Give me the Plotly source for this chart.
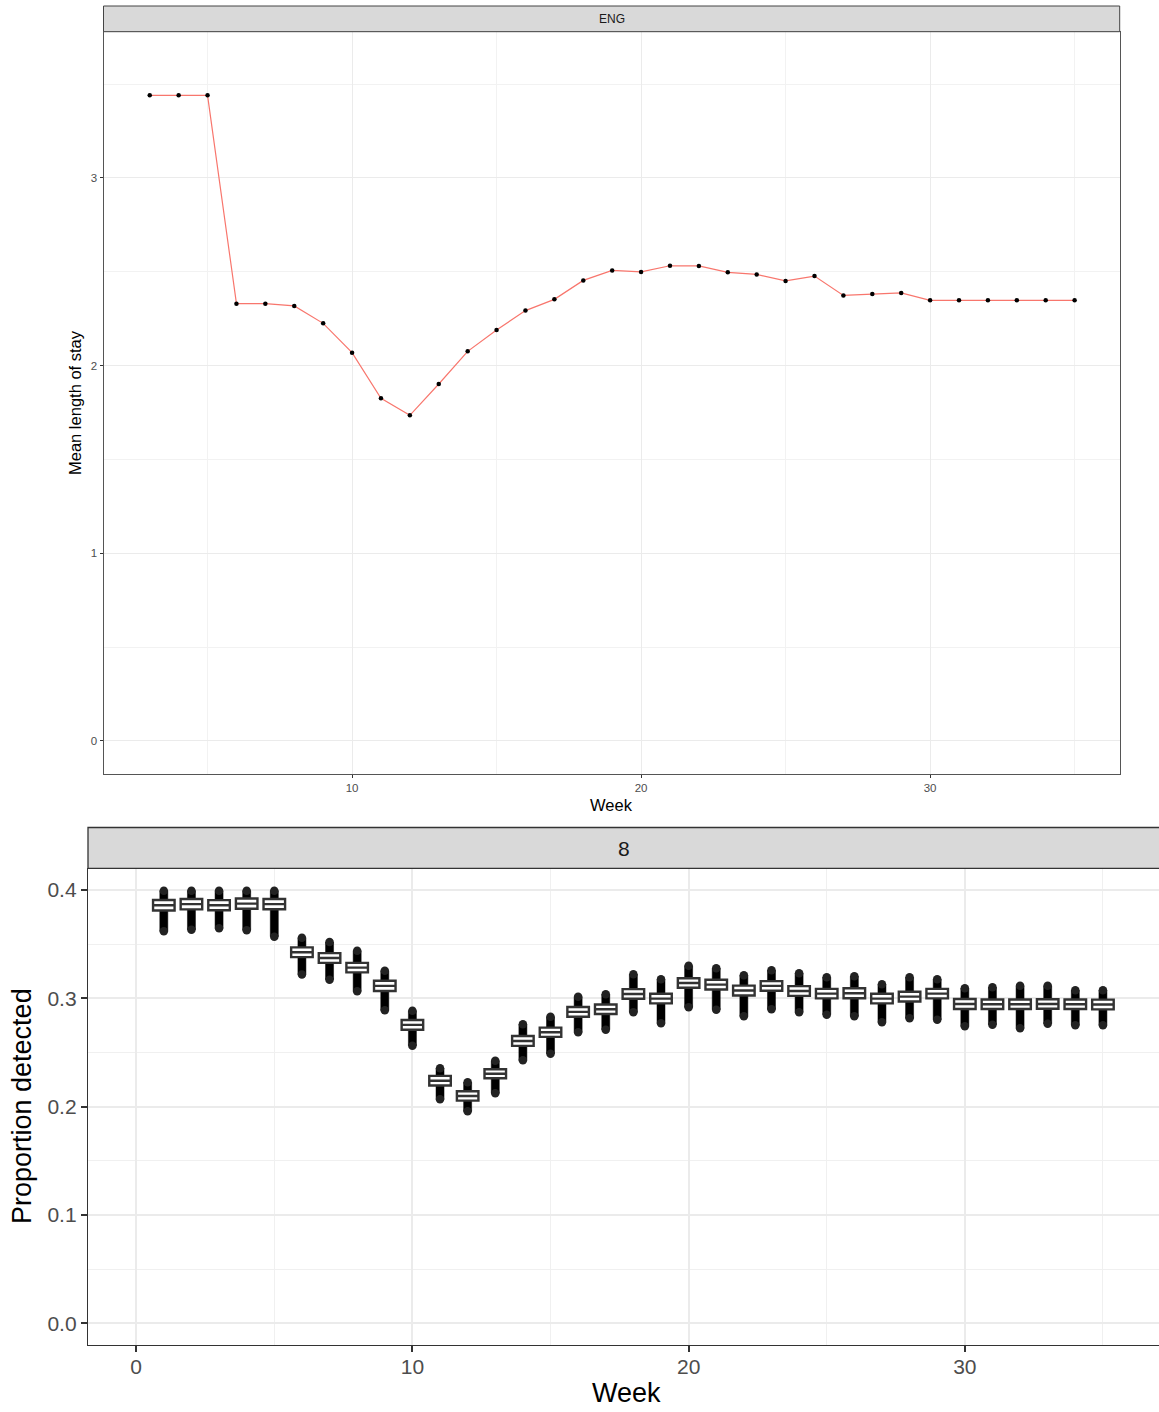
import plotly.graph_objects as go

# ---- Top panel: mean length of stay per week (ENG) ----
los_weeks = list(range(3, 36))
los_mean = [3.44, 3.44, 3.44, 2.33, 2.33, 2.318, 2.225, 2.069, 1.826, 1.735,
            1.902, 2.076, 2.19, 2.293, 2.353, 2.454, 2.507, 2.499, 2.532, 2.531,
            2.497, 2.486, 2.451, 2.477, 2.374, 2.381, 2.387, 2.348, 2.348, 2.348,
            2.348, 2.348, 2.348]

# ---- Bottom panel: proportion detected per week (facet "8") ----
det_weeks = list(range(1, 36))
det_median = [0.386, 0.387, 0.386, 0.3875, 0.387, 0.3426, 0.3373, 0.3284, 0.3115, 0.2755,
              0.2240, 0.2099, 0.2304, 0.2607, 0.2687, 0.2875, 0.2899, 0.3041, 0.2998, 0.3142,
              0.3127, 0.3072, 0.3115, 0.3068, 0.3044, 0.3047, 0.2998, 0.3016, 0.3044, 0.2948,
              0.2946, 0.2946, 0.2948, 0.2946, 0.2943]
det_q1 = [0.3812, 0.3822, 0.3813, 0.3828, 0.3823, 0.3381, 0.3328, 0.3240, 0.3068, 0.2710,
          0.2196, 0.2056, 0.2262, 0.2561, 0.2644, 0.2830, 0.2855, 0.2997, 0.2954, 0.3098,
          0.3082, 0.3026, 0.3071, 0.3023, 0.3000, 0.3001, 0.2954, 0.2971, 0.3000, 0.2902,
          0.2902, 0.2902, 0.2904, 0.2902, 0.2898]
det_q3 = [0.3908, 0.3918, 0.3907, 0.3922, 0.3917, 0.3471, 0.3418, 0.3328, 0.3162, 0.2800,
          0.2284, 0.2142, 0.2346, 0.2653, 0.2730, 0.2920, 0.2943, 0.3085, 0.3042, 0.3186,
          0.3172, 0.3118, 0.3159, 0.3113, 0.3088, 0.3093, 0.3042, 0.3061, 0.3088, 0.2994,
          0.2990, 0.2990, 0.2992, 0.2990, 0.2988]
det_min = [0.3620, 0.3633, 0.3647, 0.3630, 0.3570, 0.3220, 0.3172, 0.3066, 0.2890, 0.2562,
           0.2068, 0.1957, 0.2124, 0.2428, 0.2488, 0.2687, 0.2710, 0.2872, 0.2770, 0.2918,
           0.2895, 0.2835, 0.2899, 0.2872, 0.2849, 0.2835, 0.2780, 0.2816, 0.2802, 0.2742,
           0.2756, 0.2724, 0.2765, 0.2752, 0.2752]
det_max = [0.3994, 0.3994, 0.3994, 0.3994, 0.3994, 0.3560, 0.3520, 0.3440, 0.3255, 0.2886,
           0.2355, 0.2225, 0.2424, 0.2761, 0.2830, 0.3015, 0.3038, 0.3223, 0.3176, 0.3301,
           0.3278, 0.3213, 0.3260, 0.3232, 0.3195, 0.3204, 0.3130, 0.3195, 0.3176, 0.3093,
           0.3102, 0.3116, 0.3116, 0.3075, 0.3075]

W, H = 1159, 1412
FONT = "Liberation Sans, Arial, Helvetica, sans-serif"


def px_x(p):
    return p / W


def px_y(p):
    return 1 - p / H


fig = go.Figure()

# top: line with points
fig.add_trace(go.Scatter(
    x=los_weeks, y=los_mean, mode="lines+markers",
    line=dict(color="#F8766D", width=1.2),
    marker=dict(color="black", size=4.5),
    xaxis="x", yaxis="y", hoverinfo="skip",
))

# bottom: dense range of simulated values drawn as thick black bars
fig.add_trace(go.Box(
    x=det_weeks, q1=det_min, median=det_min, q3=det_max,
    lowerfence=det_min, upperfence=det_max,
    width=0.29, fillcolor="black", line=dict(color="black", width=0.5),
    boxpoints=False, xaxis="x2", yaxis="y2", hoverinfo="skip",
))

# rounded ends of the bars (extreme points)
end_x, end_y = [], []
for w, lo, hi in zip(det_weeks, det_min, det_max):
    end_x += [w, w]
    end_y += [lo, hi]
fig.add_trace(go.Scatter(
    x=end_x, y=end_y, mode="markers",
    marker=dict(color="#222222", size=8.5, line=dict(width=0)),
    xaxis="x2", yaxis="y2", hoverinfo="skip",
))

# bottom: interquartile boxes
fig.add_trace(go.Box(
    x=det_weeks, q1=det_q1, median=det_median, q3=det_q3,
    lowerfence=det_q1, upperfence=det_q3,
    width=0.78, fillcolor="white", line=dict(color="#333333", width=2.4),
    boxpoints=False, xaxis="x2", yaxis="y2", hoverinfo="skip",
))

grid = "#ebebeb"
top_x_dom = [px_x(103.5), px_x(1119.7)]
top_y_dom = [px_y(774), px_y(31.7)]
bot_x_dom = [px_x(88), 1.0]
bot_y_dom = [px_y(1344.5), px_y(868.3)]

fig.update_layout(
    width=W, height=H,
    margin=dict(l=0, r=0, t=0, b=0),
    paper_bgcolor="white", plot_bgcolor="white",
    showlegend=False, boxmode="overlay",
    font=dict(family=FONT),
    xaxis=dict(
        domain=top_x_dom, range=[1.4, 36.56], anchor="y",
        tick0=0, dtick=10, showgrid=True, gridcolor=grid, gridwidth=1,
        minor=dict(dtick=5, showgrid=True, gridcolor="#f2f2f2", gridwidth=0.6),
        ticks="outside", ticklen=3, tickwidth=1, tickcolor="#333333",
        tickfont=dict(size=11.5, color="#4d4d4d"),
        showline=True, mirror=True, linecolor="#555555", linewidth=1,
        zeroline=False,
    ),
    yaxis=dict(
        domain=top_y_dom, range=[-0.176, 3.779], anchor="x",
        tick0=0, dtick=1, showgrid=True, gridcolor=grid, gridwidth=1,
        minor=dict(dtick=0.5, showgrid=True, gridcolor="#f2f2f2", gridwidth=0.6),
        ticks="outside", ticklen=3, tickwidth=1, tickcolor="#333333",
        tickfont=dict(size=11.5, color="#4d4d4d"),
        showline=True, mirror=True, linecolor="#555555", linewidth=1,
        zeroline=False,
    ),
    xaxis2=dict(
        domain=bot_x_dom, range=[-1.745, 37.03], anchor="y2",
        tick0=0, dtick=10, showgrid=True, gridcolor=grid, gridwidth=1.8,
        minor=dict(dtick=5, showgrid=True, gridcolor="#f0f0f0", gridwidth=0.9),
        ticks="outside", ticklen=6, tickwidth=1.8, tickcolor="#333333",
        tickfont=dict(size=21, color="#4d4d4d"), ticklabelstandoff=-3,
        showline=True, mirror=False, linecolor="#333333", linewidth=1.3,
        zeroline=False,
    ),
    yaxis2=dict(
        domain=bot_y_dom, range=[-0.0196, 0.4201], anchor="x2",
        tick0=0, dtick=0.1, tickformat=".1f",
        showgrid=True, gridcolor=grid, gridwidth=1.8,
        minor=dict(dtick=0.05, showgrid=True, gridcolor="#f0f0f0", gridwidth=0.9),
        ticks="outside", ticklen=6, tickwidth=1.8, tickcolor="#333333",
        tickfont=dict(size=21, color="#4d4d4d"),
        showline=True, mirror=False, linecolor="#333333", linewidth=1.3,
        zeroline=False,
    ),
    shapes=[
        dict(type="rect", xref="paper", yref="paper",
             x0=top_x_dom[0], x1=top_x_dom[1], y0=px_y(31.7), y1=px_y(6),
             fillcolor="#d9d9d9", line=dict(color="#444444", width=1), layer="above"),
        dict(type="rect", xref="paper", yref="paper",
             x0=bot_x_dom[0], x1=1.02, y0=px_y(868.3), y1=px_y(827.5),
             fillcolor="#d9d9d9", line=dict(color="#333333", width=1.3), layer="above"),
    ],
    annotations=[
        dict(text="ENG", x=px_x(611.6), y=px_y(19), xref="paper", yref="paper",
             showarrow=False, xanchor="center", yanchor="middle",
             font=dict(size=12, color="#1a1a1a")),
        dict(text="8", x=px_x(624.5), y=px_y(848), xref="paper", yref="paper",
             showarrow=False, xanchor="center", yanchor="middle",
             font=dict(size=21, color="#1a1a1a")),
        dict(text="Mean length of stay", x=px_x(75), y=px_y(403), xref="paper", yref="paper",
             showarrow=False, xanchor="center", yanchor="middle", textangle=-90,
             font=dict(size=16.5, color="black")),
        dict(text="Week", x=px_x(611.6), y=px_y(805), xref="paper", yref="paper",
             showarrow=False, xanchor="center", yanchor="middle",
             font=dict(size=16.5, color="black")),
        dict(text="Proportion detected", x=px_x(22), y=px_y(1106), xref="paper", yref="paper",
             showarrow=False, xanchor="center", yanchor="middle", textangle=-90,
             font=dict(size=27, color="black")),
        dict(text="Week", x=px_x(626), y=px_y(1393), xref="paper", yref="paper",
             showarrow=False, xanchor="center", yanchor="middle",
             font=dict(size=27, color="black")),
    ],
)

fig.write_html("out.html")
